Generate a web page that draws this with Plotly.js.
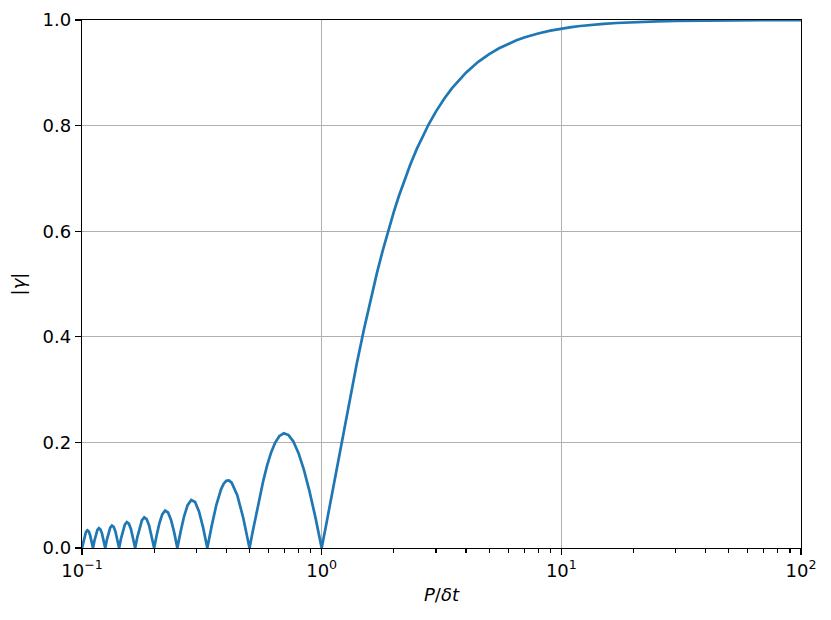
<!DOCTYPE html>
<html>
<head>
<meta charset="utf-8">
<script src="https://cdn.plot.ly/plotly-3.0.1.min.js"></script>
<style>html,body{margin:0;padding:0;background:#fff;}#plot{width:831px;height:620px;}</style>
</head>
<body>
<div id="plot"></div>
<script>
// Period ratio P/δt (x) and |γ| (y)
const periodRatio = [
  0.1, 0.10127, 0.10256, 0.10390, 0.10526, 0.10667, 0.10811, 0.10959,
  0.11111, 0.11268, 0.11429, 0.11594, 0.11765, 0.11940, 0.12121, 0.12308,
  0.125, 0.12698, 0.12903, 0.13115, 0.13333, 0.13559, 0.13793, 0.14035,
  0.14286, 0.14545, 0.14815, 0.15094, 0.15385, 0.15686, 0.16, 0.16327,
  0.16667, 0.17021, 0.17391, 0.17778, 0.18182, 0.18605, 0.19048, 0.19512,
  0.2, 0.20513, 0.21053, 0.21622, 0.22222, 0.22857, 0.23529, 0.24242,
  0.25, 0.25806, 0.26667, 0.27586, 0.28571, 0.29630, 0.30769, 0.32,
  0.33333, 0.34783, 0.36364, 0.38095, 0.39024, 0.4, 0.41026, 0.42105, 0.44444, 0.47059,
  0.5, 0.51613, 0.53333, 0.55172, 0.57143, 0.59259, 0.61538, 0.64, 0.66667,
  0.69565, 0.72727, 0.7619, 0.8, 0.84211, 0.88889, 0.94118,
  1, 1.05, 1.1, 1.2, 1.3, 1.4, 1.5, 1.6, 1.7, 1.8, 1.9, 2, 2.1, 2.2, 2.35, 2.5, 2.65, 2.8,
  3, 3.25, 3.5, 3.75, 4, 4.5, 5, 5.5, 6, 6.5, 7, 8, 9, 10, 11, 12, 13, 15, 17,
  20, 25, 30, 40, 50, 70, 100
];
const gammaAbs = [
  0, 0.01234, 0.02308, 0.03055, 0.03351, 0.03137, 0.02433, 0.01335,
  0, 0.01373, 0.02572, 0.03410, 0.03745, 0.03512, 0.02728, 0.01499,
  0, 0.01547, 0.02904, 0.03857, 0.04244, 0.03988, 0.03105, 0.01710,
  0, 0.01772, 0.03335, 0.04439, 0.04897, 0.04613, 0.03601, 0.01989,
  0, 0.02074, 0.03914, 0.05228, 0.05787, 0.05471, 0.04287, 0.02377,
  0, 0.02499, 0.04739, 0.06359, 0.07074, 0.06722, 0.05296, 0.02953,
  0, 0.03144, 0.06002, 0.08113, 0.09095, 0.08714, 0.06926, 0.03898,
  0, 0.04237, 0.08185, 0.11203, 0.12183, 0.12732, 0.12808, 0.12383, 0.10004, 0.05733,
  0, 0.03205, 0.06497, 0.09757, 0.12862, 0.15684, 0.18098, 0.19980, 0.21221,
  0.21718, 0.21388, 0.20165, 0.18006, 0.14892, 0.10828, 0.05845,
  0, 0.0498, 0.0986, 0.191, 0.2744, 0.3484, 0.4135, 0.4705, 0.5205, 0.5643, 0.6027, 0.6366, 0.6666, 0.6931, 0.7277, 0.7568, 0.7816, 0.8030,
  0.8270, 0.8514, 0.8710, 0.8870, 0.9003, 0.9208, 0.9355, 0.9465, 0.9549, 0.9615, 0.9668, 0.9745, 0.9798, 0.9836, 0.9865, 0.9886, 0.9903, 0.9927, 0.9943,
  0.9959, 0.9974, 0.9982, 0.9990, 0.9993, 0.99966, 0.9998
];
const xTickVals = [0.1, 1, 10, 100];
const xTickText = ['10<sup>\u22121</sup>', '10<sup>0</sup>', '10<sup>1</sup>', '10<sup>2</sup>'];
const xMinorVals = [0.2,0.3,0.4,0.5,0.6,0.7,0.8,0.9,2,3,4,5,6,7,8,9,20,30,40,50,60,70,80,90];
const yTickVals = [0, 0.2, 0.4, 0.6, 0.8, 1.0];
const yTickText = ['0.0', '0.2', '0.4', '0.6', '0.8', '1.0'];

const trace = {
  x: periodRatio, y: gammaAbs, type: 'scatter', mode: 'lines',
  line: {color: '#1f77b4', width: 2.7}, hoverinfo: 'skip'
};
const font = {family: 'DejaVu Sans, sans-serif', size: 18, color: '#000'};
const layout = {
  width: 831, height: 620,
  margin: {l: 82, r: 30, t: 20, b: 72},
  paper_bgcolor: '#fff', plot_bgcolor: '#fff',
  font: font, showlegend: false,
  xaxis: {
    type: 'log', range: [-1, 2],
    tickmode: 'array', tickvals: xTickVals, ticktext: xTickText,
    ticks: 'outside', ticklen: 6, tickwidth: 1.3, tickcolor: '#000',
    minor: {tickmode: 'array', tickvals: xMinorVals, ticks: 'outside', ticklen: 3.5, tickwidth: 1.1, tickcolor: '#000', showgrid: false},
    showline: true, linecolor: '#000', linewidth: 1.3, mirror: true,
    showgrid: true, gridcolor: '#b0b0b0', gridwidth: 1.3, zeroline: false,
    tickfont: font,
    title: {text: '<i>P</i>/<i>\u03b4t</i>', font: font, standoff: 8}
  },
  yaxis: {
    range: [0, 1],
    tickmode: 'array', tickvals: yTickVals, ticktext: yTickText,
    ticks: 'outside', ticklen: 6, tickwidth: 1.3, tickcolor: '#000',
    showline: true, linecolor: '#000', linewidth: 1.3, mirror: true,
    showgrid: true, gridcolor: '#b0b0b0', gridwidth: 1.3, zeroline: false,
    tickfont: font,
    title: {text: '|<i>\u03b3</i>|', font: font, standoff: 12}
  }
};
Plotly.newPlot('plot', [trace], layout, {staticPlot: true, displayModeBar: false});
</script>
</body>
</html>
